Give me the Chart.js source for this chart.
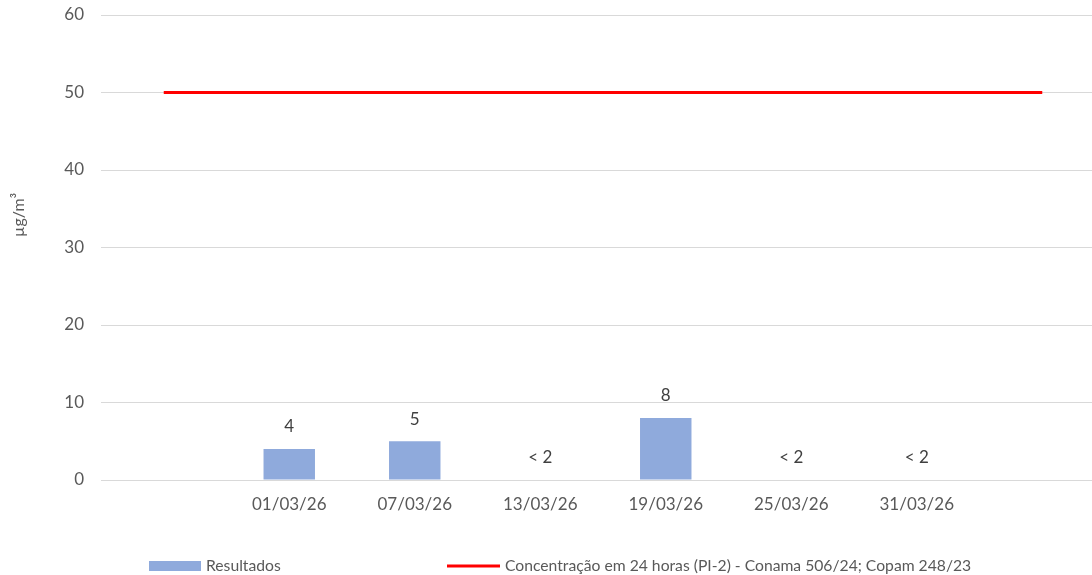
<!DOCTYPE html>
<html lang="pt">
<head>
    <meta charset="UTF-8">
    <title>Resultados - Concentração 24 horas</title>
    <script src="https://cdn.jsdelivr.net/npm/chart.js"></script>
    <style>
        html, body { margin: 0; padding: 0; background: #fff; overflow: hidden; }
        #wrap { width: 1106px; height: 575px; position: relative; }
    </style>
</head>
<body>
    <div id="wrap"><canvas id="chart"></canvas></div>

    <script>
        // data
        const categories = ['', '01/03/26', '07/03/26', '13/03/26', '19/03/26', '25/03/26', '31/03/26', ''];
        const resultados = [null, 4, 5, 0, 8, 0, 0, null];
        const resultadosLabels = [null, '4', '5', '< 2', '8', '< 2', '< 2', null];
        const limite = [50, 50, 50, 50, 50, 50, 50, 50];
        const yTicks = [0, 10, 20, 30, 40, 50, 60];

        const FONT = 'Lato, "Open Sans", sans-serif';

        // value labels above the bars
        const barLabels = {
            id: 'barLabels',
            afterDatasetsDraw(chart) {
                const meta = chart.getDatasetMeta(1);
                const ctx = chart.ctx;
                ctx.save();
                ctx.font = '17px ' + FONT;
                ctx.fillStyle = '#404040';
                ctx.textAlign = 'center';
                ctx.textBaseline = 'middle';
                meta.data.forEach((bar, i) => {
                    const txt = resultadosLabels[i];
                    if (txt == null) return;
                    ctx.fillText(txt, bar.x, bar.y - 22);
                });
                ctx.restore();
            }
        };

        // legend + y title drawn by hand (Excel-like spacing)
        const extras = {
            id: 'extras',
            afterDraw(chart) {
                const ctx = chart.ctx;
                ctx.save();
                // y axis title
                ctx.translate(19, 215);
                ctx.rotate(-Math.PI / 2);
                ctx.font = '16px ' + FONT;
                ctx.fillStyle = '#595959';
                ctx.textAlign = 'center';
                ctx.textBaseline = 'middle';
                ctx.fillText('µg/m³', 0, 0);
                ctx.restore();

                ctx.save();
                const y = 566;
                ctx.font = '15.7px ' + FONT;
                ctx.textBaseline = 'middle';
                // bar item
                ctx.fillStyle = '#8faadc';
                ctx.fillRect(149, y - 5, 52, 10);
                ctx.fillStyle = '#595959';
                ctx.fillText(chart.data.datasets[1].label, 206, y);
                // line item
                ctx.strokeStyle = '#ff0000';
                ctx.lineWidth = 3;
                ctx.beginPath();
                ctx.moveTo(447, y);
                ctx.lineTo(500, y);
                ctx.stroke();
                ctx.fillText(chart.data.datasets[0].label, 505, y);
                ctx.restore();
            }
        };

        const ctx = document.getElementById('chart').getContext('2d');
        new Chart(ctx, {
            type: 'bar',
            data: {
                labels: categories,
                datasets: [
                    {
                        type: 'line',
                        label: 'Concentração em 24 horas (PI-2) - Conama 506/24; Copam 248/23',
                        data: limite,
                        borderColor: '#ff0000',
                        backgroundColor: '#ff0000',
                        borderWidth: 3,
                        pointRadius: 0,
                        fill: false,
                        tension: 0
                    },
                    {
                        label: 'Resultados',
                        data: resultados,
                        backgroundColor: '#8faadc',
                        borderWidth: 0,
                        barPercentage: 0.41,
                        categoryPercentage: 1
                    }
                ]
            },
            options: {
                responsive: true,
                maintainAspectRatio: false,
                animation: false,
                layout: { padding: { top: 15, right: 1, left: 0, bottom: 0 } },
                plugins: {
                    legend: { display: false },
                    tooltip: { enabled: false }
                },
                scales: {
                    x: {
                        offset: true,
                        grid: { display: false, drawTicks: false },
                        border: { display: false },
                        ticks: {
                            color: '#595959',
                            font: { family: FONT, size: 17 },
                            padding: 14,
                            maxRotation: 0,
                            autoSkip: false
                        },
                        afterFit(scale) { scale.height = 95; }
                    },
                    y: {
                        min: 0,
                        max: 60,
                        afterBuildTicks(scale) {
                            scale.ticks = yTicks.map(v => ({ value: v }));
                        },
                        grid: { color: '#d9d9d9', lineWidth: 1, drawTicks: false },
                        border: { display: false },
                        ticks: {
                            color: '#595959',
                            font: { family: FONT, size: 17 },
                            padding: 17
                        },
                        afterFit(scale) {
                            scale.width = 101;
                            scale.paddingTop = 0;
                            scale.paddingBottom = 0;
                        }
                    }
                }
            },
            plugins: [barLabels, extras]
        });
    </script>
</body>
</html>
